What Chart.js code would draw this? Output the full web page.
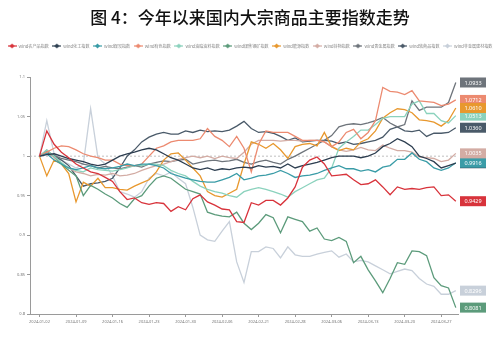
<!DOCTYPE html>
<html>
<head>
<meta charset="utf-8">
<script src="https://cdn.jsdelivr.net/npm/chart.js@4.4.1/dist/chart.umd.min.js"></script>
<style>
  html, body { margin: 0; padding: 0; background: #fff; }
  #wrap { width: 500px; height: 338px; }
</style>
</head>
<body>
<div id="wrap"><canvas id="chart" width="500" height="338"></canvas></div>
<script>
// trading days, 2024-01-02 .. 2024-03-29
const dates = [
  "2024-01-02","2024-01-03","2024-01-04","2024-01-05","2024-01-08","2024-01-09","2024-01-10","2024-01-11","2024-01-12","2024-01-15",
  "2024-01-16","2024-01-17","2024-01-18","2024-01-19","2024-01-22","2024-01-23","2024-01-24","2024-01-25","2024-01-26","2024-01-29",
  "2024-01-30","2024-01-31","2024-02-01","2024-02-02","2024-02-05","2024-02-06","2024-02-07","2024-02-08","2024-02-19","2024-02-20",
  "2024-02-21","2024-02-22","2024-02-23","2024-02-26","2024-02-27","2024-02-28","2024-02-29","2024-03-01","2024-03-04","2024-03-05",
  "2024-03-06","2024-03-07","2024-03-08","2024-03-11","2024-03-12","2024-03-13","2024-03-14","2024-03-15","2024-03-18","2024-03-19",
  "2024-03-20","2024-03-21","2024-03-22","2024-03-25","2024-03-26","2024-03-27","2024-03-28","2024-03-29"
];
const xTickIdx = [0, 5, 10, 15, 20, 25, 30, 35, 40, 45, 50, 55];
const yTicks = [0.8, 0.85, 0.9, 0.95, 1, 1.05, 1.1];

const seriesNames = ["Wind农产品指数","Wind化工指数","Wind煤炭指数","Wind有色指数","Wind油脂油料指数","Wind煤焦钢矿指数",
  "Wind能源指数","Wind谷物指数","Wind贵金属指数","Wind软商品指数","Wind非金属建材指数"];
const seriesColors = ["#d8333b","#2d3e50","#3a9ca7","#ec8a70","#8bd2bd","#5c9b7b",
  "#e8982e","#d3aca4","#6e747b","#4a5a69","#c8d0da"];

const agri = [1.000,1.032,1.015,1.005,0.998,0.990,0.985,0.980,0.978,0.973,
  0.968,0.955,0.945,0.947,0.941,0.939,0.941,0.940,0.930,0.936,
  0.932,0.946,0.951,0.942,0.938,0.933,0.932,0.917,0.916,0.941,
  0.938,0.944,0.944,0.938,0.947,0.961,0.986,0.995,0.999,0.990,
  0.975,0.976,0.977,0.970,0.964,0.965,0.970,0.961,0.951,0.961,
  0.958,0.959,0.958,0.960,0.961,0.950,0.951,0.9429];
const chem = [1.000,1.002,1.003,1.000,0.997,0.995,0.993,0.990,0.988,0.990,
  0.995,1.000,1.003,1.005,1.008,1.010,1.008,1.003,0.998,0.995,
  0.990,0.985,0.983,0.985,0.982,0.984,0.983,0.985,0.986,0.985,
  0.988,0.986,0.987,0.985,0.990,0.985,0.988,0.990,0.992,0.995,
  0.998,1.000,1.000,1.000,0.998,1.000,1.004,1.012,1.016,1.022,
  1.018,1.012,1.000,0.997,0.993,0.985,0.988,0.9910];
const coal = [1.000,1.003,0.995,0.990,0.985,0.983,0.985,0.988,0.985,0.984,
  0.985,0.987,0.990,0.988,0.990,0.990,0.988,0.985,0.978,0.975,
  0.972,0.970,0.968,0.967,0.967,0.970,0.973,0.978,0.970,0.972,
  0.975,0.976,0.978,0.982,0.978,0.973,0.975,0.976,0.978,0.982,
  0.985,0.988,0.984,0.984,0.981,0.983,0.980,0.986,0.988,0.996,
  0.996,1.004,0.996,0.993,0.985,0.982,0.985,0.9916];
const metals = [1.000,1.005,1.010,1.013,1.012,1.008,1.003,1.000,0.998,0.995,
  0.995,0.990,0.988,0.988,0.990,1.000,1.010,1.013,1.018,1.020,
  1.020,1.020,1.022,1.035,1.025,1.020,1.012,1.025,1.010,0.980,
  1.015,1.032,1.030,1.030,1.030,1.025,1.020,1.020,1.020,1.018,
  1.012,1.018,1.030,1.034,1.022,1.030,1.045,1.087,1.082,1.081,
  1.078,1.083,1.070,1.069,1.068,1.064,1.066,1.0712];
const oils = [1.000,1.008,1.000,0.992,0.985,0.982,0.980,0.985,0.983,0.982,
  0.981,0.983,0.985,0.988,0.988,0.990,0.990,0.988,0.982,0.978,
  0.975,0.968,0.962,0.958,0.955,0.953,0.950,0.948,0.955,0.958,
  0.960,0.958,0.955,0.952,0.948,0.955,0.960,0.965,0.970,0.972,
  0.985,1.010,1.018,1.025,1.033,1.033,1.040,1.048,1.050,1.050,
  1.050,1.066,1.070,1.054,1.054,1.045,1.042,1.0513];
const ferrous = [1.000,1.007,1.000,0.990,0.982,0.975,0.950,0.963,0.958,0.952,
  0.947,0.940,0.935,0.946,0.950,0.962,0.972,0.975,0.972,0.965,
  0.958,0.955,0.952,0.929,0.926,0.924,0.923,0.929,0.915,0.907,
  0.915,0.926,0.922,0.903,0.923,0.920,0.917,0.905,0.909,0.895,
  0.893,0.897,0.892,0.865,0.873,0.856,0.842,0.827,0.845,0.865,
  0.863,0.880,0.879,0.874,0.846,0.836,0.833,0.8081];
const energy = [1.000,0.975,0.995,0.990,0.978,0.942,0.967,0.962,0.972,0.960,
  0.960,0.958,0.957,0.962,0.966,0.970,0.980,0.995,1.003,1.004,
  0.995,0.985,0.975,0.955,0.950,0.948,0.953,0.958,0.990,1.018,
  1.015,1.010,1.016,1.008,0.997,1.012,1.015,1.016,1.013,1.030,
  1.012,1.007,1.010,1.008,1.018,1.022,1.032,1.048,1.055,1.060,
  1.059,1.055,1.046,1.045,1.043,1.038,1.045,1.0610];
const grains = [1.000,1.008,0.998,0.990,0.985,0.980,0.978,0.975,0.977,0.976,
  0.978,0.975,0.976,0.978,0.982,0.985,0.988,0.990,0.993,0.996,
  0.998,1.000,0.998,1.000,0.997,1.000,0.998,0.997,1.005,1.015,
  1.020,1.020,1.020,1.019,1.020,1.020,1.019,1.020,1.020,1.018,
  1.012,1.008,1.006,1.008,1.011,1.008,1.007,1.014,1.010,1.007,
  1.007,1.005,0.999,0.998,0.997,0.993,0.995,1.0035];
const precious = [1.000,1.003,1.001,0.997,0.995,0.993,0.990,0.988,0.985,0.987,
  0.985,0.984,0.986,0.988,0.986,0.990,0.992,0.994,0.993,0.995,
  0.996,0.990,0.992,0.994,0.995,0.993,0.994,0.996,0.992,0.990,
  0.993,0.995,0.992,0.990,0.996,1.000,1.005,1.010,1.015,1.020,
  1.026,1.037,1.040,1.041,1.040,1.042,1.045,1.049,1.042,1.037,
  1.040,1.070,1.058,1.062,1.062,1.062,1.068,1.0933];
const softs = [1.000,1.004,1.000,0.995,0.988,0.975,0.962,0.965,0.966,0.968,
  0.972,0.985,1.000,1.008,1.018,1.024,1.028,1.030,1.028,1.028,
  1.032,1.030,1.033,1.031,1.032,1.031,1.033,1.038,1.044,1.035,
  1.030,1.031,1.029,1.025,1.020,1.023,1.018,1.019,1.020,1.020,
  1.019,1.016,1.018,1.015,1.016,1.018,1.020,1.024,1.034,1.037,
  1.032,1.031,1.033,1.025,1.029,1.029,1.030,1.0360];
const nonmetal = [1.000,1.045,1.003,0.995,0.990,0.985,0.990,1.060,0.998,0.990,
  0.975,0.955,0.952,0.948,0.955,0.972,0.978,0.975,0.980,0.972,
  0.965,0.935,0.900,0.894,0.892,0.905,0.917,0.866,0.840,0.879,
  0.879,0.885,0.883,0.871,0.885,0.875,0.873,0.873,0.876,0.878,
  0.880,0.872,0.876,0.866,0.868,0.866,0.861,0.856,0.851,0.854,
  0.857,0.855,0.845,0.838,0.835,0.825,0.825,0.8296];

const seriesValues = [agri, chem, coal, metals, oils, ferrous, energy, grains, precious, softs, nonmetal];

// little "-◆-" marker for the legend
function legendMarker(color){
    const c = document.createElement("canvas");
    c.width = 9; c.height = 6;
    const g = c.getContext("2d");
    g.strokeStyle = color; g.lineWidth = 1.2;
    g.beginPath(); g.moveTo(0, 3); g.lineTo(9, 3); g.stroke();
    g.fillStyle = color;
    g.beginPath(); g.moveTo(4.5, 0.5); g.lineTo(7, 3); g.lineTo(4.5, 5.5); g.lineTo(2, 3); g.closePath(); g.fill();
    return c;
}

// dashed line at 1.0
const baseLine = {
    id: "baseLine",
    beforeDatasetsDraw(chart){
        const {ctx, chartArea, scales} = chart;
        const y = scales.y.getPixelForValue(1);
        ctx.save();
        ctx.strokeStyle = "#b0b0b0";
        ctx.lineWidth = 0.8;
        ctx.setLineDash([2, 2]);
        ctx.beginPath();
        ctx.moveTo(chartArea.left, y);
        ctx.lineTo(chartArea.right, y);
        ctx.stroke();
        ctx.restore();
    }
};

// coloured value boxes at the right end of each line
const endLabels = {
    id: "endLabels",
    afterDatasetsDraw(chart){
        const {ctx, chartArea, scales} = chart;
        ctx.save();
        ctx.font = "5.5px 'Noto Sans'";
        ctx.textAlign = "center";
        ctx.textBaseline = "middle";
        chart.data.datasets.forEach((ds) => {
            const last = ds.data[ds.data.length - 1].y;
            const y = scales.y.getPixelForValue(last);
            const x = chartArea.right + 2;
            ctx.fillStyle = ds.borderColor;
            ctx.fillRect(x, y - 5, 26, 10);
            ctx.fillStyle = "#fff";
            ctx.fillText(last.toFixed(4), x + 13, y + 0.5);
        });
        ctx.restore();
    }
};

const datasets = seriesNames.map((name, i) => ({
    label: name,
    data: seriesValues[i].map((v, k) => ({x: k, y: v})),
    borderColor: seriesColors[i],
    backgroundColor: seriesColors[i],
    borderWidth: 1.3,
    pointRadius: 0,
    tension: 0,
    pointStyle: legendMarker(seriesColors[i])
}));

const axisGray = "#9a9a9a";
const tickFont = {family: "Noto Sans", size: 4};

new Chart(document.getElementById("chart"), {
    type: "line",
    data: {datasets: datasets},
    options: {
        responsive: false,
        animation: false,
        layout: {padding: {left: 0, right: 0, top: 0, bottom: 0}},
        plugins: {
            title: {
                display: true,
                text: "图 4：今年以来国内大宗商品主要指数走势",
                color: "#111",
                font: {family: "Noto Sans CJK SC", size: 17, weight: "500"},
                padding: {top: 7, bottom: 13}
            },
            // empty spacer between legend and plot
            subtitle: {
                display: true,
                text: " ",
                weight: 500,
                font: {size: 1},
                padding: {top: 18, bottom: 0}
            },
            legend: {
                position: "top",
                labels: {
                    usePointStyle: true,
                    pointStyleWidth: 9,
                    boxHeight: 5,
                    padding: 3.5,
                    color: "#858585",
                    font: {family: "Noto Sans CJK SC", size: 4.1}
                }
            },
            tooltip: {enabled: false}
        },
        scales: {
            x: {
                type: "linear",
                min: -1.3,
                max: 57.3,
                afterBuildTicks: (s) => { s.ticks = xTickIdx.map(v => ({value: v})); },
                afterFit: (s) => { s.height = 24; },
                ticks: {
                    callback: (v) => dates[v],
                    color: "#777",
                    font: tickFont,
                    maxRotation: 0,
                    autoSkip: false,
                    padding: 2
                },
                grid: {display: true, drawOnChartArea: false, drawTicks: true, tickLength: 3, color: axisGray},
                border: {color: axisGray, width: 1}
            },
            y: {
                min: 0.8,
                max: 1.1,
                afterBuildTicks: (s) => { s.ticks = yTicks.map(v => ({value: v})); },
                afterFit: (s) => { s.width = 30; },
                ticks: {
                    callback: (v) => String(+v.toFixed(2)),
                    color: "#777",
                    font: tickFont,
                    padding: 2
                },
                grid: {display: true, drawOnChartArea: false, drawTicks: true, tickLength: 3, color: axisGray},
                border: {color: axisGray, width: 1}
            },
            yRight: {
                position: "right",
                min: 0.8,
                max: 1.1,
                afterFit: (s) => { s.width = 42; },
                ticks: {display: false},
                grid: {display: false},
                border: {display: false}
            }
        }
    },
    plugins: [baseLine, endLabels]
});
</script>
</body>
</html>
